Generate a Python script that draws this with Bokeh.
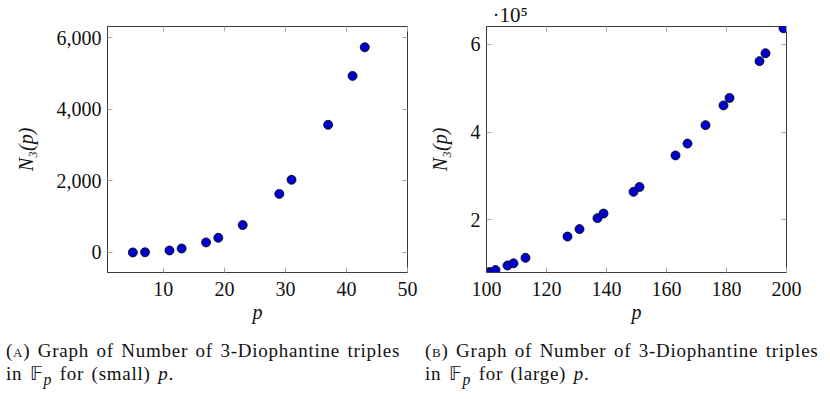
from bokeh.plotting import figure
from bokeh.models import (LinearAxis, FixedTicker, NumeralTickFormatter,
                          CustomJSTickFormatter, Div, ColumnDataSource)
from bokeh.layouts import column, row
from bokeh.embed import file_html
from bokeh.resources import INLINE

# ---- data ----
p_small = [5, 7, 11, 13, 17, 19, 23, 29, 31, 37, 41, 43]
n_small = [0, 5, 55, 110, 280, 410, 765, 1635, 2030, 3565, 4930, 5730]

p_large = [101, 103, 107, 109, 113, 127, 131, 137, 139, 149, 151,
           163, 167, 173, 179, 181, 191, 193, 199]
n_large = [81000, 85500, 96000, 101000, 113500, 162000, 179000, 204000,
           214500, 264000, 275000, 347000, 374000, 416000, 461000, 478000,
           562000, 580000, 637000]

xt_small = [10, 20, 30, 40, 50]
yt_small = [0, 2000, 4000, 6000]
xt_large = [100, 120, 140, 160, 180, 200]
yt_large = [200000, 400000, 600000]

caption_a = ('(<span style="font-variant: small-caps;">a</span>) Graph of Number of 3-Diophantine triples<br>'
             'in &#x1D53D;<sub><i>p</i></sub> for (small) <i>p</i>.')
caption_b = ('(<span style="font-variant: small-caps;">b</span>) Graph of Number of 3-Diophantine triples<br>'
             'in &#x1D53D;<sub><i>p</i></sub> for (large) <i>p</i>.')

FONT = "Liberation Serif"
FRAME = "#3a3a3a"
TICK = "#a8a8a8"
FILL = "#0000cc"


def style_axis(ax, ticks, fmt=None, show_labels=True):
    ax.ticker = FixedTicker(ticks=ticks)
    ax.major_tick_in = 5
    ax.major_tick_out = 0
    ax.minor_tick_in = 0
    ax.minor_tick_out = 0
    ax.major_tick_line_color = TICK
    ax.major_tick_line_width = 1
    ax.axis_line_color = FRAME
    ax.axis_line_width = 1
    ax.major_label_text_font = FONT
    ax.major_label_text_font_size = "20px"
    ax.major_label_text_color = "#111111"
    ax.axis_label_text_font = FONT
    ax.axis_label_text_font_size = "20px"
    ax.axis_label_text_font_style = "italic"
    ax.axis_label_text_color = "#111111"
    if fmt is not None:
        ax.formatter = fmt
    if not show_labels:
        ax.formatter = CustomJSTickFormatter(code="return '';")
        ax.major_label_text_font_size = "1px"
        ax.major_label_standoff = 0
        ax.axis_line_color = None


def make_fig(xs, ys, x_range, y_range, xt, yt, yfmt, left_border, right_border, title=None):
    p = figure(frame_width=300, frame_height=246, x_range=x_range, y_range=y_range,
               min_border_left=left_border, min_border_right=right_border,
               min_border_top=26, min_border_bottom=60,
               output_backend="svg", toolbar_location=None, title=title)
    p.grid.visible = False
    p.outline_line_color = FRAME
    p.outline_line_width = 1
    p.background_fill_color = "white"
    p.border_fill_color = "white"
    style_axis(p.xaxis[0], xt)
    style_axis(p.yaxis[0], yt, yfmt)
    p.xaxis[0].axis_label = "p"
    p.yaxis[0].axis_label = "N₃(p)"
    p.xaxis[0].major_label_standoff = 9
    p.yaxis[0].major_label_standoff = 6
    p.xaxis[0].axis_label_standoff = 2
    p.yaxis[0].axis_label_standoff = 17
    top = LinearAxis()
    style_axis(top, xt, show_labels=False)
    right = LinearAxis()
    style_axis(right, yt, show_labels=False)
    p.add_layout(top, "above")
    p.add_layout(right, "right")
    src = ColumnDataSource(data=dict(x=xs, y=ys))
    p.scatter("x", "y", source=src, size=9, marker="circle",
              fill_color=FILL, line_color="black", line_width=0.8)
    return p


p1 = make_fig(p_small, n_small, (0.85, 50), (-560, 6310), xt_small, yt_small,
              NumeralTickFormatter(format="0,0"), 107, 14)
p2 = make_fig(p_large, n_large, (100, 200), (80000, 641000), xt_large, yt_large,
              CustomJSTickFormatter(code="return (tick/1e5).toFixed(0);"), 65, 20,
              title="·10⁵")
p2.title.align = "left"
p2.title.offset = 6
p2.title.standoff = 0
p2.title.text_font = FONT
p2.title.text_font_size = "21px"
p2.title.text_font_style = "normal"
p2.title.text_color = "#111111"
p2.title.text_line_height = 1.0

div_style = {"font-family": FONT, "font-size": "19px", "line-height": "23px",
             "color": "#111111", "letter-spacing": "0.75px", "word-spacing": "2px",
             "white-space": "nowrap"}
d1 = Div(text=caption_a, width=419, height=50, styles=div_style, margin=(7, 0, 0, 6))
d2 = Div(text=caption_b, width=400, height=50, styles=div_style, margin=(7, 0, 0, 0))

layout = column(row(p1, p2), row(d1, d2))

open("out.html", "w").write(file_html(layout, INLINE))
